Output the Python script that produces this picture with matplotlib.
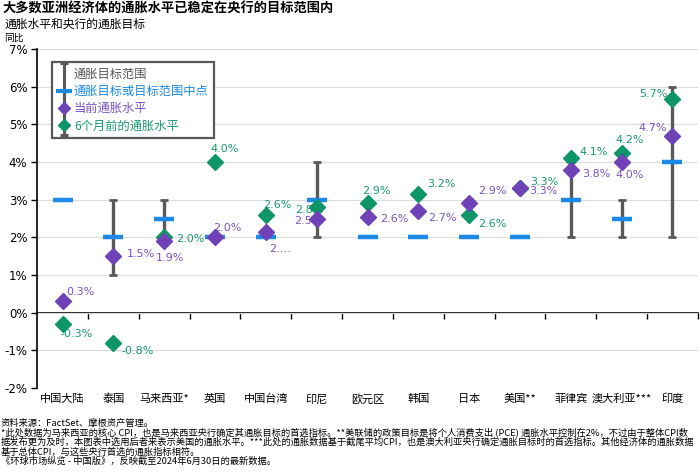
import numpy as np
import matplotlib
matplotlib.use('Agg')
import matplotlib.pyplot as plt
from matplotlib.lines import Line2D
from matplotlib.path import Path
from matplotlib.legend_handler import HandlerTuple

plt.rcParams['font.family'] = ['Noto Sans CJK SC', 'DejaVu Sans']

# 数据
categories = ['中国大陆', '泰国', '马来西亚*', '英国', '中国台湾', '印尼', '欧元区',
              '韩国', '日本', '美国**', '菲律宾', '澳大利亚***', '印度']
target_mid = [3.0, 2.0, 2.5, 2.0, 2.0, 3.0, 2.0, 2.0, 2.0, 2.0, 3.0, 2.5, 4.0]
target_low = [np.nan, 1.0, 2.0, np.nan, np.nan, 2.0, np.nan, np.nan, np.nan, np.nan, 2.0, 2.0, 2.0]
target_high = [np.nan, 3.0, 3.0, np.nan, np.nan, 4.0, np.nan, np.nan, np.nan, np.nan, 4.0, 3.0, 6.0]
current = [0.3, 1.5, 1.9, 2.0, 2.15, 2.5, 2.55, 2.7, 2.9, 3.3, 3.8, 4.0, 4.7]
six_months_ago = [-0.3, -0.8, 2.0, 4.0, 2.6, 2.8, 2.9, 3.15, 2.6, 3.3, 4.1, 4.23, 5.66]
current_labels = ['0.3%', '1.5%', '1.9%', '2.0%', '2.…', '2.5%', '2.6%', '2.7%', '2.9%',
                  '3.3%', '3.8%', '4.0%', '4.7%']
six_labels = ['-0.3%', '-0.8%', '2.0%', '4.0%', '2.6%', '2.8%', '2.9%', '3.2%', '2.6%',
              '3.3%', '4.1%', '4.2%', '5.7%']

# 标签偏移（像素）：dx, dy, ha
cur_off = [(4, 9, 'left'), (13, 2, 'left'), (-8, -17, 'left'), (-2, 9, 'left'),
           (3, -17, 'left'), (-23, -2, 'left'), (13, -2, 'left'), (10, -7, 'left'),
           (9, 12, 'left'), (9, -3, 'left'), (11, -4, 'left'), (-6, -13, 'left'),
           (-6, 8, 'right')]
six_off = [(-2, -10, 'left'), (8, -8, 'left'), (12, -2, 'left'), (-5, 13, 'left'),
           (-3, 10, 'left'), (-22, -3, 'left'), (-5, 12, 'left'), (9, 10, 'left'),
           (9, -9, 'left'), (10, 6, 'left'), (9, 6, 'left'), (-6, 13, 'left'),
           (-5, 5, 'right')]

GRAY = '#595959'
BLUE = '#1a8ae6'
PURPLE = '#6f42b8'
PURPLE_TXT = '#7b52c7'
GREEN = '#0f9668'
GREEN_TXT = '#1a9a70'

fig = plt.figure(figsize=(7, 4.75), dpi=100)
ax = fig.add_axes([0.053, 0.183, 0.944, 0.714])

x = np.arange(len(categories))
low = np.array(target_low)
high = np.array(target_high)
mid = np.array(target_mid)
has_range = ~np.isnan(low)

# 目标范围（误差线）
ax.errorbar(x[has_range], mid[has_range],
            yerr=[mid[has_range] - low[has_range], high[has_range] - mid[has_range]],
            fmt='none', ecolor=GRAY, elinewidth=2.4, capsize=3, capthick=2, zorder=2)
# 中点
ax.plot(x, mid, ls='none', marker='_', ms=15, mew=3.2, color=BLUE, zorder=3)
# 6个月前
ax.plot(x, six_months_ago, ls='none', marker='D', ms=8, color=GREEN, zorder=4)
# 当前
ax.plot(x, current, ls='none', marker='D', ms=8.5, color=PURPLE, zorder=5)

for i in range(len(categories)):
    dx, dy, ha = six_off[i]
    ax.annotate(six_labels[i], (x[i], six_months_ago[i]), xytext=(dx, dy),
                textcoords='offset pixels', ha=ha, va='center', color=GREEN_TXT,
                fontsize=8, family='DejaVu Sans', zorder=3.5)
    dx, dy, ha = cur_off[i]
    ax.annotate(current_labels[i], (x[i], current[i]), xytext=(dx, dy),
                textcoords='offset pixels', ha=ha, va='center', color=PURPLE_TXT,
                fontsize=8, family='DejaVu Sans', zorder=4.5)

ymin, ymax = -2, 7
ax.set_ylim(ymin, ymax)
ax.set_xlim(-0.5, len(categories) - 0.5)
ax.set_yticks(range(-2, 8))
ax.set_yticklabels([f'{v}%' for v in range(-2, 8)], family='DejaVu Sans', fontsize=8.5)
ax.yaxis.grid(True, color='#dcdcdc', lw=0.8)
ax.set_axisbelow(True)
ax.set_xticks(x)
ax.set_xticklabels(categories, fontsize=8)
ax.tick_params(axis='x', length=0, pad=4)
ax.tick_params(axis='y', length=4, width=1, color='black', pad=3)
for s in ['top', 'right', 'bottom']:
    ax.spines[s].set_visible(False)
ax.spines['left'].set_color('black')
ax.spines['left'].set_linewidth(1.2)

# 零线及分类刻度
sec = ax.secondary_xaxis((0 - ymin) / (ymax - ymin))
sec.set_xticks(x + 0.5)
sec.set_xticklabels([])
sec.tick_params(length=4, width=1, color='black', direction='out')
sec.spines['bottom'].set_color('black')
sec.spines['bottom'].set_linewidth(1.2)

# 图例
p_top = Path([(-0.35, 1), (0.35, 1), (0, 1), (0, -1)],
             [Path.MOVETO, Path.LINETO, Path.MOVETO, Path.LINETO])
p_bot = Path([(0, 1), (0, -1), (-0.35, -1), (0.35, -1)],
             [Path.MOVETO, Path.LINETO, Path.MOVETO, Path.LINETO])
vline = Line2D([], [], ls='none', marker='|', ms=15, mew=2.2, color=GRAY)
h1 = Line2D([], [], ls='none', marker=p_top, ms=15, mew=2.2, mec=GRAY, fillstyle='none')
h2 = (vline, Line2D([], [], ls='none', marker='_', ms=12, mew=3, color=BLUE))
h3 = (vline, Line2D([], [], ls='none', marker='D', ms=6.5, color=PURPLE))
h4 = (Line2D([], [], ls='none', marker=p_bot, ms=15, mew=2.2, mec=GRAY, fillstyle='none'),
      Line2D([], [], ls='none', marker='D', ms=6.5, color=GREEN))
leg = ax.legend([h1, h2, h3, h4],
                ['通胀目标范围', '通胀目标或目标范围中点', '当前通胀水平', '6个月前的通胀水平'],
                handler_map={tuple: HandlerTuple(ndivide=1, pad=0)},
                loc='upper left', bbox_to_anchor=(52 / 700, 1 - 62 / 475),
                bbox_transform=fig.transFigure, borderaxespad=0, numpoints=1,
                handlelength=1.0, handletextpad=0.35, labelspacing=0.35,
                fontsize=8.8, fancybox=False, framealpha=1, borderpad=0.45)
leg.get_frame().set_edgecolor(GRAY)
leg.get_frame().set_linewidth(1.6)
for t, c in zip(leg.get_texts(), [GRAY, BLUE, PURPLE_TXT, GREEN_TXT]):
    t.set_color(c)

# 标题
fig.text(0.004, 1 - 9 / 475, '大多数亚洲经济体的通胀水平已稳定在央行的目标范围内',
         fontsize=9.5, fontweight='bold', va='center')
fig.text(0.006, 1 - 24 / 475, '通胀水平和央行的通胀目标', fontsize=8.5, va='center')
fig.text(0.006, 1 - 38 / 475, '同比', fontsize=7, va='center')

notes = [
    '资料来源：FactSet、摩根资产管理。',
    '*此处数据为马来西亚的核心 CPI，也是马来西亚央行确定其通胀目标的首选指标。**美联储的政策目标是将个人消费支出 (PCE) 通胀水平控制在2%，不过由于整体CPI数',
    '据发布更为及时，本图表中选用后者来表示美国的通胀水平。***此处的通胀数据基于截尾平均CPI，也是澳大利亚央行确定通胀目标时的首选指标。其他经济体的通胀数据',
    '基于总体CPI，与这些央行首选的通胀指标相符。',
    '《环球市场纵览 - 中国版》，反映截至2024年6月30日的最新数据。',
]
for k, line in enumerate(notes):
    fig.text(0.001, 1 - (423 + 9.6 * k) / 475, line, fontsize=6.7, va='center')

fig.savefig('out.png', dpi=100)
